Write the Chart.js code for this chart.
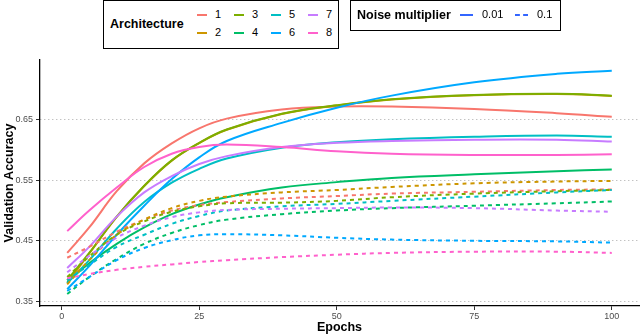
<!DOCTYPE html>
<html>
<head>
<meta charset="utf-8">
<script src="https://cdn.jsdelivr.net/npm/chart.js@4"></script>
<style>
  html, body { margin: 0; padding: 0; background: #fff; }
  #wrap { position: relative; width: 640px; height: 335px; font-family: "Liberation Sans", Arial, sans-serif; }
  canvas { position: absolute; left: 0; top: 0; }
  .box { position: absolute; border: 1.3px solid #000; background: #fff; box-sizing: border-box; }
  .ttl { position: absolute; font-weight: bold; font-size: 12.5px; color: #000; }
  .lab { position: absolute; font-size: 11px; color: #000; line-height: 12px; }
  .seg { position: absolute; height: 0; width: 10px; border-top: 2px solid; }
</style>
</head>
<body>
<div id="wrap">
  <canvas id="chart" width="640" height="335"></canvas>
  <div id="legendArch" class="box" style="left:103px;top:0px;width:236px;height:49px;"></div>
  <div id="legendNoise" class="box" style="left:350px;top:0px;width:211px;height:31px;"></div>
</div>
<script>
// 학습 곡선 데이터
const epochs = [1, 5, 10, 15, 20, 25, 30, 40, 50, 60, 75, 90, 100];
const archNames = ['1', '2', '3', '4', '5', '6', '7', '8'];
const archColors = ['#F8766D', '#CD9600', '#7CAE00', '#00BE67', '#00BFC4', '#00A9FF', '#C77CFF', '#FF61CC'];
const noiseLevels = ['0.01', '0.1'];
const yTicks = [0.35, 0.45, 0.55, 0.65];
const xTicks = [0, 25, 50, 75, 100];

// noise multiplier 0.01 (실선)
const arch1_noise001 = [0.430, 0.472, 0.532, 0.578, 0.611, 0.636, 0.652, 0.667, 0.672, 0.672, 0.668, 0.661, 0.655];
const arch2_noise001 = [0.380, 0.429, 0.4895, 0.5405, 0.5825, 0.6115, 0.6335, 0.6595, 0.6735, 0.6835, 0.6905, 0.6925, 0.6895];
const arch3_noise001 = [0.385, 0.430, 0.490, 0.541, 0.583, 0.612, 0.634, 0.660, 0.674, 0.684, 0.691, 0.693, 0.690];
const arch4_noise001 = [0.382, 0.413, 0.445, 0.472, 0.494, 0.510, 0.522, 0.538, 0.547, 0.554, 0.560, 0.565, 0.568];
const arch5_noise001 = [0.380, 0.418, 0.470, 0.514, 0.546, 0.569, 0.586, 0.604, 0.613, 0.618, 0.622, 0.624, 0.622];
const arch6_noise001 = [0.370, 0.408, 0.460, 0.508, 0.552, 0.588, 0.615, 0.645, 0.670, 0.690, 0.712, 0.726, 0.731];
const arch7_noise001 = [0.405, 0.440, 0.490, 0.530, 0.557, 0.577, 0.590, 0.605, 0.612, 0.615, 0.617, 0.617, 0.614];
const arch8_noise001 = [0.466, 0.500, 0.538, 0.572, 0.594, 0.605, 0.609, 0.605, 0.598, 0.594, 0.592, 0.592, 0.593];

// noise multiplier 0.1 (점선)
const arch1_noise01 = [0.422, 0.440, 0.465, 0.485, 0.500, 0.509, 0.514, 0.520, 0.524, 0.528, 0.531, 0.534, 0.535];
const arch2_noise01 = [0.378, 0.418, 0.460, 0.485, 0.504, 0.516, 0.523, 0.530, 0.534, 0.539, 0.545, 0.548, 0.549];
const arch3_noise01 = [0.390, 0.424, 0.460, 0.482, 0.498, 0.507, 0.512, 0.513, 0.516, 0.522, 0.528, 0.532, 0.534];
const arch4_noise01 = [0.362, 0.390, 0.420, 0.445, 0.463, 0.476, 0.485, 0.494, 0.500, 0.504, 0.508, 0.512, 0.515];
const arch5_noise01 = [0.385, 0.410, 0.440, 0.460, 0.478, 0.491, 0.500, 0.507, 0.511, 0.516, 0.523, 0.530, 0.534];
const arch6_noise01 = [0.367, 0.390, 0.418, 0.438, 0.451, 0.459, 0.461, 0.459, 0.455, 0.452, 0.450, 0.449, 0.447];
const arch7_noise01 = [0.398, 0.425, 0.455, 0.475, 0.489, 0.497, 0.501, 0.503, 0.504, 0.505, 0.504, 0.500, 0.498];
const arch8_noise01 = [0.388, 0.395, 0.402, 0.407, 0.411, 0.415, 0.418, 0.423, 0.427, 0.430, 0.432, 0.432, 0.430];

const solidSeries = [arch1_noise001, arch2_noise001, arch3_noise001, arch4_noise001,
                     arch5_noise001, arch6_noise001, arch7_noise001, arch8_noise001];
const dashedSeries = [arch1_noise01, arch2_noise01, arch3_noise01, arch4_noise01,
                      arch5_noise01, arch6_noise01, arch7_noise01, arch8_noise01];

const datasets = [];

function makeDataset(values, i, dashed) {
    return {
        label: archNames[i] + ' / ' + (dashed ? noiseLevels[1] : noiseLevels[0]),
        data: values.map((v, k) => ({ x: epochs[k], y: v })),
        borderColor: archColors[i],
        borderWidth: 2,
        borderDash: dashed ? [4, 4] : [],
        pointRadius: 0,
        tension: 0.4,
        fill: false,
        order: -datasets.length // 나중에 추가된 선이 위에 그려지도록 (ggplot 순서)
    };
}

solidSeries.forEach((s, i) => datasets.push(makeDataset(s, i, false)));
dashedSeries.forEach((s, i) => datasets.push(makeDataset(s, i, true)));

const FONT = '"Liberation Sans", Arial, sans-serif';

new Chart(document.getElementById('chart'), {
    type: 'line',
    data: { datasets: datasets },
    options: {
        responsive: false,
        animation: false,
        layout: { padding: { top: 60, right: 1, left: 0, bottom: 0 } },
        plugins: { legend: { display: false }, tooltip: { enabled: false } },
        scales: {
            x: {
                type: 'linear',
                min: -3.95,
                max: 104.95,
                afterFit: s => { s.height = 29; },
                afterBuildTicks: s => { s.ticks = xTicks.map(v => ({ value: v })); },
                grid: { drawOnChartArea: false, drawTicks: true, tickLength: 4, tickColor: '#333', tickWidth: 1 },
                border: { color: '#000', width: 1.3 },
                ticks: { color: '#4D4D4D', font: { family: FONT, size: 9 }, padding: 1, maxRotation: 0 },
                title: { display: true, text: 'Epochs', color: '#000', font: { family: FONT, size: 12.5, weight: 'bold' }, padding: { top: 0, bottom: 0 } }
            },
            y: {
                min: 0.3422,
                max: 0.7489,
                afterFit: s => { s.width = 40; },
                afterBuildTicks: s => { s.ticks = yTicks.map(v => ({ value: v })); },
                grid: { color: '#A8A8A8', lineWidth: 1, drawTicks: true, tickLength: 4, tickColor: '#333', tickBorderDash: [] },
                border: { color: '#000', width: 1.3, dash: [1, 3] },
                ticks: { color: '#4D4D4D', font: { family: FONT, size: 9 }, padding: 3, callback: v => v.toFixed(2) },
                title: { display: true, text: 'Validation Accuracy', color: '#000', font: { family: FONT, size: 12.5, weight: 'bold' }, padding: { top: 2, bottom: 0 } }
            }
        }
    }
});

// 범례 (HTML)
const archBox = document.getElementById('legendArch');
archBox.innerHTML = '<div class="ttl" style="left:6px;top:16px;">Architecture</div>';
const colX = [93, 130, 167, 204];
const rowY = [14, 32];
archNames.forEach((name, i) => {
    const col = Math.floor(i / 2), row = i % 2;
    const seg = document.createElement('div');
    seg.className = 'seg';
    seg.style.left = colX[col] + 'px';
    seg.style.top = (rowY[row] - 1) + 'px';
    seg.style.borderTopColor = archColors[i];
    archBox.appendChild(seg);
    const lab = document.createElement('div');
    lab.className = 'lab';
    lab.style.left = (colX[col] + 18) + 'px';
    lab.style.top = (rowY[row] - 7) + 'px';
    lab.textContent = name;
    archBox.appendChild(lab);
});

const noiseBox = document.getElementById('legendNoise');
noiseBox.innerHTML =
    '<div class="ttl" style="left:6px;top:7px;">Noise multiplier</div>' +
    '<div class="seg" style="left:109px;top:13px;width:13px;border-top:2px solid #3366FF;"></div>' +
    '<div class="lab" style="left:131px;top:7px;">' + noiseLevels[0] + '</div>' +
    '<div class="seg" style="left:164px;top:13px;width:13px;border-top:2px dashed #3366FF;"></div>' +
    '<div class="lab" style="left:186px;top:7px;">' + noiseLevels[1] + '</div>';
</script>
</body>
</html>
